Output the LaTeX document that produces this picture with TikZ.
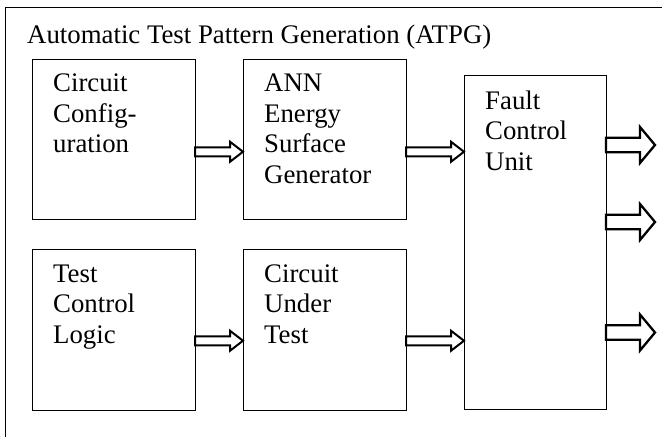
\documentclass[tikz,border=0pt]{standalone}
\usepackage{fontspec}
\setmainfont{Liberation Serif}
\usepackage{tikz}
\usetikzlibrary{calc,positioning}

\tikzset{
  blk/.style={draw,line width=1pt,minimum width=163pt,minimum height=160.5pt,
    anchor=north west,inner sep=0pt,outer sep=0pt},
  txt/.style={anchor=north west,align=left,inner sep=0pt,
    font=\fontsize{26.8}{30.5}\selectfont,execute at begin node=\rule{0pt}{20pt}},
  smallarr/.style={draw,line width=2pt,fill=white,line join=miter,
    to path={let \p1=(\tikztostart),\p2=(\tikztotarget) in
      (\x1,\y1+4.5pt) -- (\x2-13pt,\y1+4.5pt) -- (\x2-13pt,\y1+10pt) -- (\x2,\y1)
      -- (\x2-13pt,\y1-10pt) -- (\x2-13pt,\y1-4.5pt) -- (\x1,\y1-4.5pt) -- cycle}},
  bigarr/.style={draw,line width=2.3pt,fill=white,line join=miter,
    to path={let \p1=(\tikztostart),\p2=(\tikztotarget) in
      (\x1,\y1+7.2pt) -- (\x2-15pt,\y1+7.2pt) -- (\x2-15pt,\y1+18pt) -- (\x2,\y1)
      -- (\x2-15pt,\y1-18pt) -- (\x2-15pt,\y1-7.2pt) -- (\x1,\y1-7.2pt) -- cycle}}
}

\begin{document}
\begin{tikzpicture}[x=1pt,y=-1pt]
\useasboundingbox (0,0) rectangle (662,437);

% Outer frame (cut off at right and bottom)
\draw[line width=1pt] (5.7,437) |- (662,7.5);

% Title
\node[anchor=base west,inner sep=0pt,font=\fontsize{26.8}{30.5}\selectfont] (title) at (27,43)
  {Automatic Test Pattern Generation (ATPG)};

% Blocks
\node[blk] (cfg) at (32,59) {};
\node[blk,right=48pt of cfg] (ann) {};
\node[blk,below=30pt of cfg] (tcl) {};
\node[blk,right=48pt of tcl] (cut) {};
\node[blk,minimum width=142pt,minimum height=334pt] (fcu) at (464,75.7) {};

% Block texts
\node[txt] (cfgtxt) at ([xshift=21pt,yshift=-15pt]cfg.north west) {Circuit\\Config-\\uration};
\node[txt] (anntxt) at ([xshift=21pt,yshift=-15pt]ann.north west) {ANN\\Energy\\Surface\\Generator};
\node[txt] (tcltxt) at ([xshift=21pt,yshift=-15pt]tcl.north west) {Test\\Control\\Logic};
\node[txt] (cuttxt) at ([xshift=21pt,yshift=-15pt]cut.north west) {Circuit\\Under\\Test};
\node[txt] (fcutxt) at ([xshift=21pt,yshift=-15pt]fcu.north west) {Fault\\Control\\Unit};

% Hollow arrows between blocks
\draw[smallarr] ([yshift=-12.5pt]cfg.east) to (ann.west);
\draw[smallarr] ([yshift=-12.5pt]ann.east) to (fcu.west);
\draw[smallarr] ([yshift=-11pt]tcl.east) to (cut.west);
\draw[smallarr] ([yshift=-11pt]cut.east) to (fcu.west);

% Outputs of the fault control unit
\coordinate (o1) at (655,145);
\coordinate (o2) at (655,222);
\coordinate (o3) at (655,332.5);
\foreach \o in {o1,o2,o3}
  \draw[bigarr] (fcu.east |- \o) to (\o);
\end{tikzpicture}
\end{document}
